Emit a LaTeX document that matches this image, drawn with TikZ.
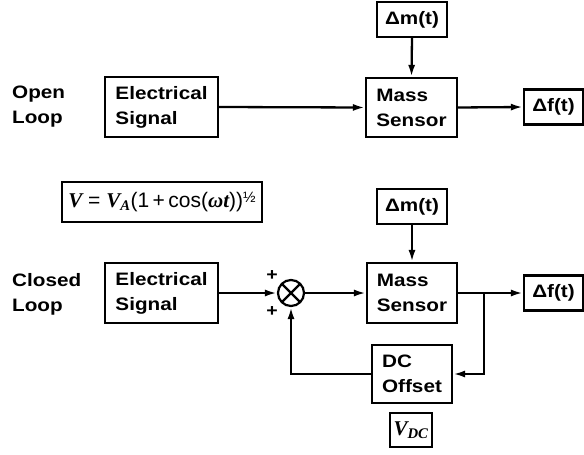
\documentclass[tikz,border=0pt]{standalone}
\usepackage{fontspec}
\setmainfont{Liberation Sans}[FakeStretch=1.15]
\newfontfamily\plainfont{Liberation Sans}
\newfontfamily\eqfont{Liberation Serif}
\usetikzlibrary{arrows.meta}

\begin{document}
\begin{tikzpicture}[x=1pt,y=-1pt,
    blk/.style={draw,line width=2.2pt,align=left,inner sep=0pt,
      font=\bfseries\fontsize{18}{25}\selectfont},
    lbl/.style={align=left,inner sep=0pt,font=\bfseries\fontsize{18}{25}\selectfont},
    sig/.style={line width=2.3pt,-{Latex[length=12pt,width=7pt]}}]
  \useasboundingbox (0,0) rectangle (584,455);
  % open loop
  \node[lbl,anchor=west] (olab) at (12,107) {Open\\Loop};
  \node[blk,minimum width=113pt,minimum height=60pt] (oes) at (161.5,107) {Electrical\\Signal};
  \node[blk,minimum width=91pt,minimum height=59pt] (oms) at (411.5,107.5) {Mass\\Sensor};
  \node[blk,minimum width=70pt,minimum height=35pt] (odm) at (412,19.5) {Δm(t)};
  \node[blk,minimum width=59pt,minimum height=35pt] (odf) at (553.5,107) {Δf(t)};
  \draw[sig] (oes.east) -- (oms.west);
  \draw[sig] (odm.south) -- (oms.north);
  \draw[sig] (oms.east) -- (odf.west);
  % closed loop
  \node[lbl,anchor=west] (clab) at (12,294.5) {Closed\\Loop};
  \node[draw,line width=2.2pt,minimum width=200pt,minimum height=40pt,inner sep=0pt,
    font=\plainfont\fontsize{21}{22}\selectfont] (form) at (162,202)
    {{\eqfont\bfseries\itshape V} = {\eqfont\bfseries\itshape V\textsubscript{A}}(1\,+\,cos({\eqfont\bfseries\itshape ωt}))\raisebox{5pt}{\fontsize{15}{15}\selectfont ½}};
  \node[blk,minimum width=70pt,minimum height=35pt] (cdm) at (412,206.5) {Δm(t)};
  \node[blk,minimum width=113pt,minimum height=60pt] (ces) at (161.5,293) {Electrical\\Signal};
  \node[circle,draw,line width=2.2pt,minimum size=26pt,inner sep=0pt,
    path picture={\draw[line width=2.2pt]
      (path picture bounding box.north west) -- (path picture bounding box.south east)
      (path picture bounding box.north east) -- (path picture bounding box.south west);}]
    (sum) at (291,293) {};
  \node[font=\bfseries\fontsize{17}{17}\selectfont,inner sep=0pt] (pa) at (272,276) {+};
  \node[font=\bfseries\fontsize{17}{17}\selectfont,inner sep=0pt] (pb) at (272,312) {+};
  \node[blk,minimum width=90pt,minimum height=60pt] (cms) at (412,293) {Mass\\Sensor};
  \node[blk,minimum width=59pt,minimum height=35pt] (cdf) at (553.5,293) {Δf(t)};
  \node[blk,minimum width=80pt,minimum height=58pt] (dco) at (412,374) {DC\\Offset};
  \node[draw,line width=2.2pt,minimum width=42pt,minimum height=34pt,inner sep=0pt,
    font=\eqfont\bfseries\itshape\fontsize{21}{21}\selectfont] (vdc) at (411,430)
    {V\textsubscript{DC}};
  \coordinate (br) at (484,293);
  \draw[sig] (ces.east) -- (sum.west);
  \draw[sig] (sum.east) -- (cms.west);
  \draw[sig] (cdm.south) -- (cms.north);
  \draw[sig] (cms.east) -- (cdf.west);
  \draw[sig] (br) |- (dco.east);
  \draw[sig] (dco.west) -| (sum.south);
\end{tikzpicture}
\end{document}
